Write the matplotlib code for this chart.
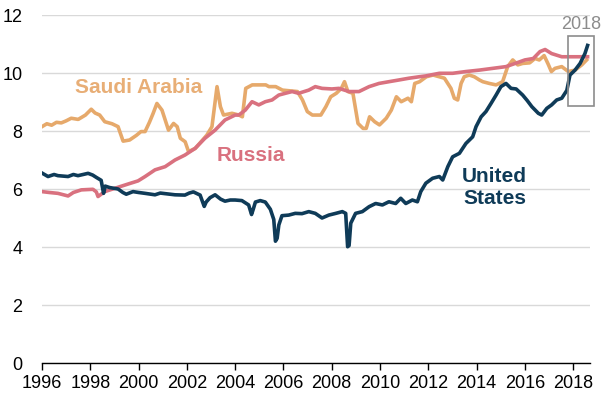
import matplotlib
matplotlib.use("Agg")
import matplotlib.pyplot as plt
from matplotlib.patches import Rectangle

plt.rcParams["font.family"] = ["Liberation Sans", "DejaVu Sans"]

# Crude oil production, million barrels per day
us_year = [1996.0, 1996.25, 1996.5, 1996.66, 1997.08, 1997.3, 1997.49, 1997.7, 1997.91,
           1998.1, 1998.25, 1998.45, 1998.55, 1998.62, 1998.8, 1999.15, 1999.35, 1999.49,
           1999.77, 2000.0, 2000.27, 2000.68, 2000.9, 2001.1, 2001.51, 2001.92, 2002.1,
           2002.27, 2002.55, 2002.72, 2002.8, 2002.96, 2003.17, 2003.4, 2003.58, 2003.8,
           2004.0, 2004.28, 2004.56, 2004.68, 2004.75, 2004.84, 2005.04, 2005.25, 2005.46,
           2005.6, 2005.67, 2005.74, 2005.81, 2005.94, 2006.22, 2006.49, 2006.77, 2007.05,
           2007.32, 2007.6, 2007.88, 2008.17, 2008.44, 2008.58, 2008.66, 2008.72, 2008.79,
           2008.99, 2009.27, 2009.55, 2009.82, 2010.1, 2010.37, 2010.65, 2010.86, 2011.07,
           2011.34, 2011.55, 2011.69, 2011.9, 2012.18, 2012.46, 2012.6, 2012.81, 2013.01,
           2013.29, 2013.56, 2013.84, 2013.98, 2014.19, 2014.39, 2014.6, 2014.81, 2015.01,
           2015.22, 2015.43, 2015.64, 2015.91, 2016.1, 2016.29, 2016.56, 2016.7, 2016.91,
           2017.11, 2017.32, 2017.53, 2017.74, 2017.87, 2018.08, 2018.29, 2018.49, 2018.6]
us_val = [6.55, 6.43, 6.50, 6.46, 6.43, 6.50, 6.46, 6.50, 6.54,
          6.48, 6.40, 6.30, 5.85, 6.10, 6.05, 6.00, 5.88, 5.82,
          5.91, 5.88, 5.85, 5.80, 5.86, 5.84, 5.80, 5.79, 5.86,
          5.90, 5.79, 5.40, 5.55, 5.70, 5.80, 5.65, 5.58, 5.62,
          5.62, 5.60, 5.45, 5.12, 5.30, 5.55, 5.60, 5.55, 5.30,
          4.95, 4.20, 4.30, 4.76, 5.08, 5.10, 5.16, 5.15, 5.22,
          5.16, 5.00, 5.10, 5.16, 5.22, 5.16, 4.01, 4.05, 4.82,
          5.16, 5.22, 5.39, 5.50, 5.45, 5.56, 5.50, 5.68, 5.50,
          5.62, 5.56, 5.91, 6.20, 6.37, 6.43, 6.31, 6.77, 7.11,
          7.23, 7.57, 7.80, 8.15, 8.49, 8.67, 8.95, 9.24, 9.53,
          9.64, 9.47, 9.45, 9.24, 9.05, 8.84, 8.61, 8.55, 8.78,
          8.90, 9.07, 9.13, 9.40, 9.93, 10.10, 10.33, 10.67, 10.95]

ru_year = [1996.0, 1996.3, 1996.66, 1997.08, 1997.3, 1997.63, 1998.11, 1998.25, 1998.32,
           1998.6, 1999.15, 1999.56, 1999.98, 2000.27, 2000.68, 2001.1, 2001.51, 2001.92,
           2002.34, 2002.75, 2003.17, 2003.58, 2004.0, 2004.15, 2004.42, 2004.7, 2004.98,
           2005.25, 2005.53, 2005.81, 2006.08, 2006.36, 2006.63, 2007.05, 2007.32, 2007.6,
           2008.01, 2008.3, 2008.72, 2009.13, 2009.55, 2009.96, 2010.37, 2010.79, 2011.2,
           2011.62, 2011.9, 2012.46, 2013.01, 2013.56, 2014.12, 2014.67, 2015.22, 2015.6,
           2016.0, 2016.35, 2016.63, 2016.84, 2017.11, 2017.53, 2017.94, 2018.36, 2018.6]
ru_val = [5.91, 5.88, 5.85, 5.76, 5.88, 5.97, 5.99, 5.90, 5.74,
          5.91, 6.06, 6.17, 6.28, 6.43, 6.66, 6.77, 7.00, 7.17,
          7.40, 7.75, 8.03, 8.38, 8.55, 8.55, 8.72, 9.01, 8.90,
          9.01, 9.07, 9.24, 9.30, 9.36, 9.30, 9.41, 9.53, 9.47,
          9.45, 9.47, 9.36, 9.36, 9.53, 9.64, 9.70, 9.76, 9.82,
          9.87, 9.90, 9.99, 9.99, 10.05, 10.10, 10.16, 10.22, 10.33,
          10.45, 10.50, 10.74, 10.81, 10.67, 10.56, 10.56, 10.56, 10.56]

sa_year = [1996.0, 1996.2, 1996.4, 1996.6, 1996.8, 1997.0, 1997.21, 1997.5, 1997.8,
           1998.04, 1998.2, 1998.39, 1998.6, 1998.9, 1999.15, 1999.36, 1999.63, 1999.91,
           2000.1, 2000.27, 2000.45, 2000.6, 2000.76, 2000.97, 2001.24, 2001.45, 2001.6,
           2001.73, 2001.93, 2002.07, 2002.35, 2002.83, 2003.04, 2003.25, 2003.39, 2003.52,
           2003.87, 2004.16, 2004.3, 2004.44, 2004.71, 2005.27, 2005.4, 2005.68, 2005.96,
           2006.58, 2006.79, 2006.99, 2007.2, 2007.55, 2007.76, 2007.96, 2008.19, 2008.4,
           2008.53, 2008.67, 2008.88, 2009.09, 2009.3, 2009.43, 2009.57, 2009.78, 2009.98,
           2010.26, 2010.47, 2010.68, 2010.88, 2011.16, 2011.3, 2011.44, 2011.64, 2011.92,
           2012.2, 2012.46, 2012.67, 2012.94, 2013.08, 2013.22, 2013.36, 2013.49, 2013.7,
           2013.91, 2014.12, 2014.26, 2014.53, 2014.81, 2015.08, 2015.29, 2015.5, 2015.71,
           2015.91, 2016.2, 2016.42, 2016.6, 2016.8, 2016.97, 2017.1, 2017.25, 2017.53,
           2017.8, 2018.08, 2018.36, 2018.56]
sa_val = [8.15, 8.25, 8.20, 8.30, 8.28, 8.35, 8.44, 8.40, 8.55,
          8.75, 8.62, 8.55, 8.32, 8.25, 8.15, 7.65, 7.69, 7.85,
          7.98, 7.98, 8.30, 8.60, 8.95, 8.72, 8.03, 8.26, 8.15,
          7.75, 7.63, 7.29, 7.40, 7.86, 8.15, 9.53, 8.84, 8.55,
          8.61, 8.55, 8.49, 9.47, 9.59, 9.59, 9.53, 9.53, 9.41,
          9.36, 9.07, 8.67, 8.55, 8.55, 8.84, 9.18, 9.30, 9.47,
          9.70, 9.36, 9.30, 8.26, 8.09, 8.09, 8.49, 8.32, 8.21,
          8.44, 8.72, 9.18, 9.01, 9.13, 9.01, 9.64, 9.70, 9.87,
          9.93, 9.87, 9.82, 9.47, 9.13, 9.07, 9.64, 9.87, 9.93,
          9.87, 9.76, 9.70, 9.64, 9.59, 9.70, 10.22, 10.45, 10.28,
          10.33, 10.35, 10.50, 10.45, 10.60, 10.30, 10.05, 10.16, 10.22,
          10.05, 10.10, 10.28, 10.45]

x_ticks = list(range(1996, 2019, 2))
y_ticks = [0, 2, 4, 6, 8, 10, 12]

NAVY = "#0f3b58"
PINK = "#d9717f"
TAN = "#e6a96b"

fig = plt.figure(figsize=(6.05, 3.93), dpi=100)
ax = fig.add_axes([42 / 605, 30 / 393, 548 / 605, 348 / 393])

ax.plot(sa_year, sa_val, color=TAN, lw=2.6, solid_joinstyle="round")
ax.plot(ru_year, ru_val, color=PINK, lw=2.6, solid_joinstyle="round")
ax.plot(us_year, us_val, color=NAVY, lw=2.6, solid_joinstyle="round")

ax.set_xlim(1996, 2018.7)
ax.set_ylim(0, 12)
ax.set_xticks(x_ticks)
ax.set_yticks(y_ticks)
ax.grid(axis="y", color="#d9d9d9", lw=1)
ax.set_axisbelow(True)
for side in ["left", "right", "top"]:
    ax.spines[side].set_visible(False)
ax.spines["bottom"].set_color("black")
ax.spines["bottom"].set_linewidth(1)
ax.tick_params(axis="x", length=5, width=1, pad=4, labelsize=13, colors="black")
ax.tick_params(axis="y", length=0, pad=14, labelsize=13, colors="black")

ax.text(1997.35, 9.5, "Saudi Arabia", color="#e8ae76", fontsize=15,
        fontweight="bold", ha="left", va="center")
ax.text(2003.25, 7.17, "Russia", color=PINK, fontsize=15,
        fontweight="bold", ha="left", va="center")
ax.text(2014.75, 6.05, "United\nStates", color=NAVY, fontsize=15,
        fontweight="bold", ha="center", va="center", linespacing=1.15)

# highlight box for 2018
ax.add_patch(Rectangle((2017.8, 8.86), 1.07, 2.42, fill=False,
                       edgecolor="#8c8c8c", lw=1.2, clip_on=False, zorder=5))
ax.text(2018.33, 11.66, "2018", color="#8c8c8c", fontsize=13,
        ha="center", va="center", clip_on=False)

fig.savefig("out.png", dpi=100)
